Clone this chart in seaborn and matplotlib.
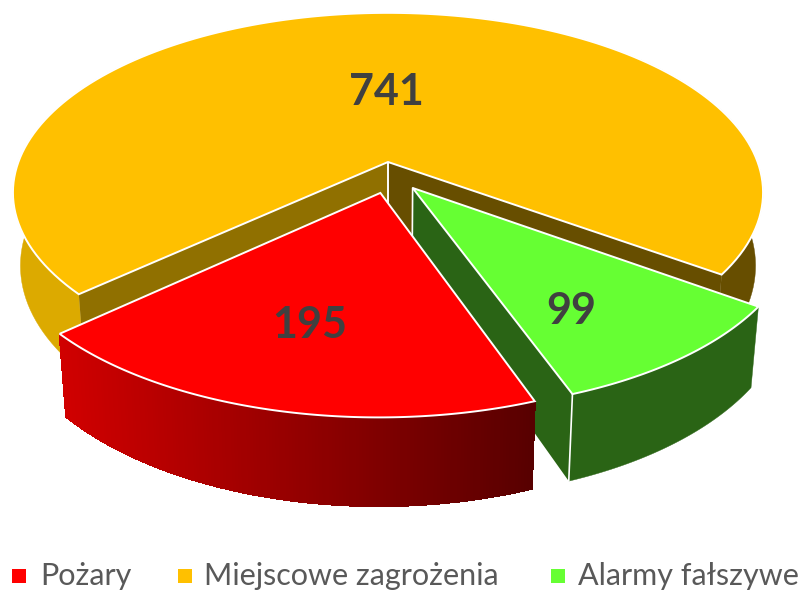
import numpy as np
import matplotlib
matplotlib.use("Agg")
import matplotlib.pyplot as plt
import seaborn as sns

# ---- data ----
categories = ["Pożary", "Miejscowe zagrożenia", "Alarmy fałszywe"]
values = [195, 741, 99]
value_labels = ["195", "741", "99"]

# ---- style / layout (pixels) ----
top_colors = ["#ff0000", "#ffc000", "#66ff33"]
X0, Y0 = 388, 162
A, B, K = 369.6, 174.5, 0.17
H, SHRINK = 71, 0.98
FIRST_ANGLE = 160.0
EXPLODE = [(-0.02, 0.172), None, (0.065, 0.145)]
LABEL_XY = [(310, 325), (386, 92), (571, 311)]
LEGEND_SQ = [19, 185, 558]
LEGEND_TX = [40, 204, 578]

sns.set_theme(style="white")
plt.rcParams["font.family"] = ["Lato", "DejaVu Sans"]

fig = plt.figure(figsize=(8, 5.92), dpi=100)
ax = fig.add_axes([0, 0, 1, 1])
ax.set_xlim(0, 800)
ax.set_ylim(592, 0)
ax.axis("off")


def project(u, v, z=0.0, off=(0, 0)):
    u = np.asarray(u, float) + off[0]
    v = np.asarray(v, float) + off[1]
    s = 1.0 / (1.0 - K * v)
    x = A * u * s
    y = B * v * s + H * z * s
    f = 1.0 - (1.0 - SHRINK) * z
    return X0 + x * f, Y0 + y


def arc(t0, t1, n=160):
    t = np.radians(np.linspace(t0, t1, n))
    return np.sin(t), -np.cos(t)


def lerp(c0, c1, f):
    a = np.array(matplotlib.colors.to_rgb(c0))
    b = np.array(matplotlib.colors.to_rgb(c1))
    return tuple(a + (b - a) * float(np.clip(f, 0, 1)))


def rim(ax, u, v, off, color, zorder, aa=True):
    xa, ya = project(u, v, 0, off)
    xb, yb = project(u[::-1], v[::-1], 1, off)
    ax.fill(np.r_[xa, xb], np.r_[ya, yb], facecolor=color, edgecolor=color,
            lw=0.3 if aa else 0.8, antialiased=aa, zorder=zorder)


def wall(ax, u0, v0, u1, v1, off, color, zorder=1):
    xa, ya = project([u0, u1], [v0, v1], 0, off)
    xb, yb = project([u1, u0], [v1, v0], 1, off)
    ax.fill(np.r_[xa, xb], np.r_[ya, yb], color=color, lw=0, zorder=zorder)
    ax.plot([xa[0], xb[1]], [ya[0], yb[1]], color="white", lw=1.2, zorder=zorder + 0.1)


fractions = np.array(values, float) / np.sum(values)
edges = FIRST_ANGLE + np.r_[0, np.cumsum(fractions)] * 360

z = 1
for idx in [1, 2, 0]:
    t0, t1 = edges[idx], edges[idx + 1]
    off = EXPLODE[idx] if EXPLODE[idx] else (0, 0)
    u, v = arc(t0, t1)
    if idx == 1:
        left = u < 0
        right = u >= 0
        rim(ax, u[left], v[left], off, "#dcaa00", z)
        rim(ax, u[right], v[right], off, "#674e00", z)
    elif idx == 2:
        rim(ax, u, v, off, "#2a6415", z)
    else:
        rim(ax, u, v, off, "#a00000", z)
        xs, _ = project(u, v, 0, off)
        for i in range(len(u) - 1):
            xm = 0.5 * (xs[i] + xs[i + 1])
            col = lerp("#d00000", "#580000", (xm - 60) / (532 - 60))
            rim(ax, u[i:i + 2], v[i:i + 2], off, col, z + 0.5, aa=False)
    z += 1
    if idx == 1:
        wall(ax, 0, 0, u[0], v[0], off, "#907000", zorder=z)
        wall(ax, 0, 0, u[-1], v[-1], off, "#674e00", zorder=z)
    elif idx == 2:
        wall(ax, 0, 0, u[-1], v[-1], off, "#2a6415", zorder=z)
        xa, ya = project(u[-1:], v[-1:], 0, off)
        xb, yb = project(u[-1:], v[-1:], 1, off)
        ax.plot([xa[0], xb[0]], [ya[0], yb[0]], color="white", lw=1.2, zorder=z + 0.6)
    z += 1
    px, py = project(np.r_[0, u], np.r_[0, v], 0, off)
    ax.fill(px, py, facecolor=top_colors[idx], edgecolor="white", lw=1.4,
            joinstyle="miter", zorder=z)
    z += 1

for (lx, ly), txt in zip(LABEL_XY, value_labels):
    ax.text(lx, ly, txt, ha="center", va="center", fontsize=31, fontweight="bold",
            color="#404040", zorder=50)

for sx, tx, c, name in zip(LEGEND_SQ, LEGEND_TX, top_colors, categories):
    ax.scatter([sx], [576], marker="s", s=110, color=c, linewidths=0, zorder=50)
    ax.text(tx, 576, name, ha="left", va="center", fontsize=22, color="#595959", zorder=50)

sns.despine(ax=ax, left=True, bottom=True)
fig.savefig("out.png", dpi=100)
